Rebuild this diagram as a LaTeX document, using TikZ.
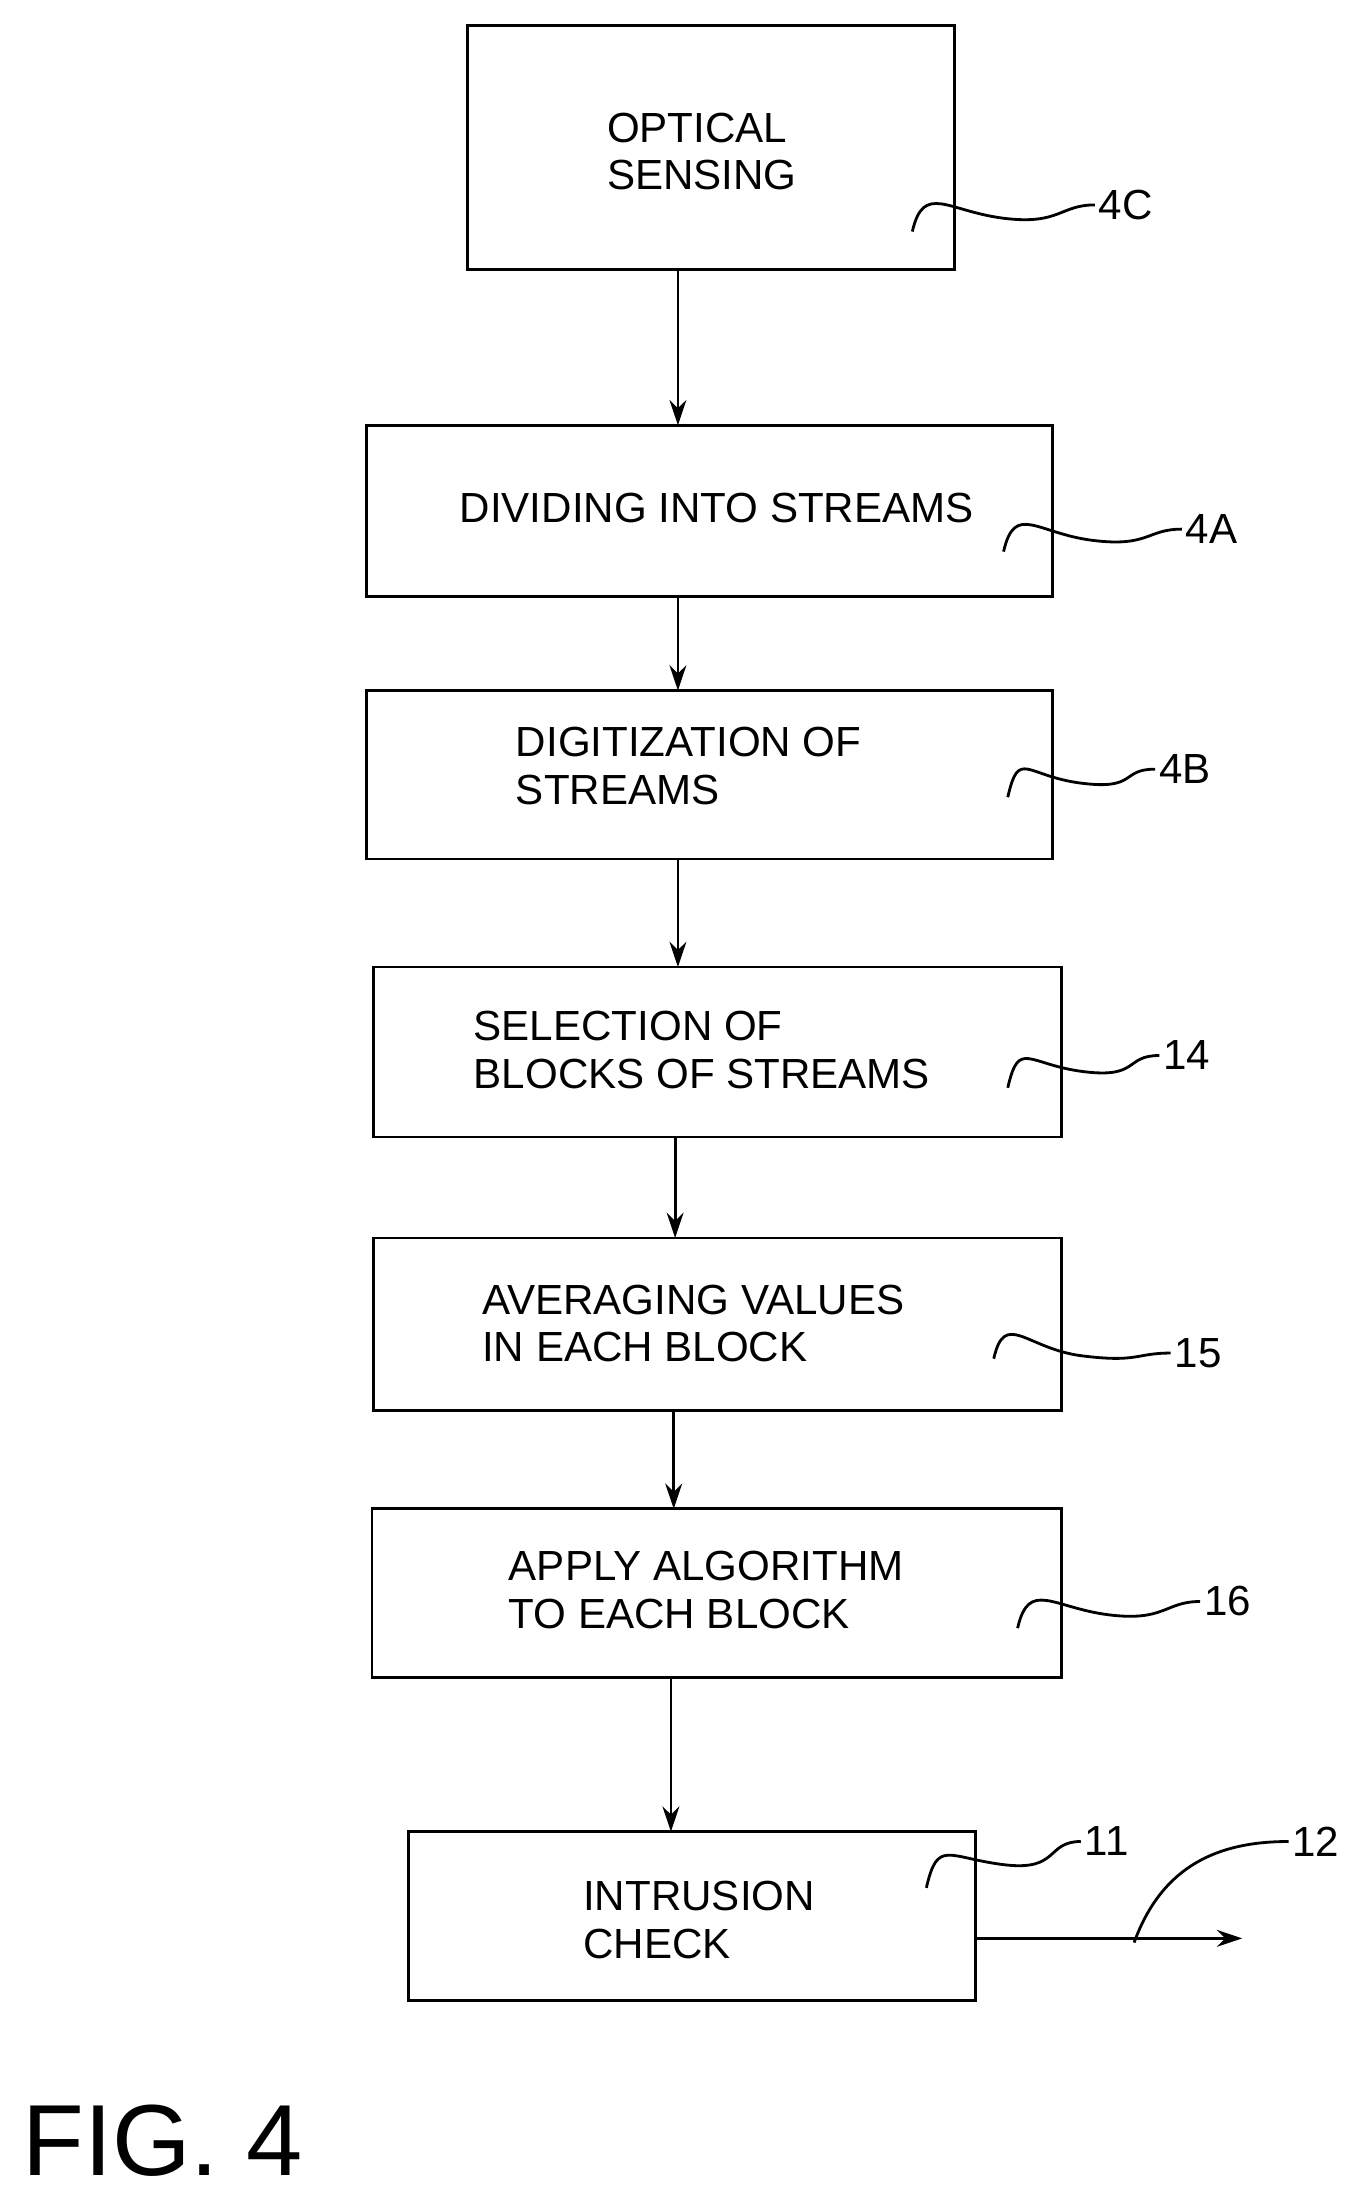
\documentclass[tikz,border=0pt]{standalone}
\usepackage{fontspec}
\setmainfont{Liberation Sans}
\usetikzlibrary{positioning,arrows.meta,calc}
\begin{document}
\begin{tikzpicture}[x=0.5pt,y=-0.5pt,line width=0.9pt]
    %styles
    \tikzstyle{procbox}=[draw,line width=1pt]
    \tikzstyle{lbl}=[font=\fontsize{15}{17}\selectfont,align=left,anchor=west]
    \tikzstyle{flow}=[-{Stealth[length=9pt,width=6pt]},line width=1pt]
    \tikzstyle{ref}=[font=\fontsize{15}{17}\selectfont,anchor=west,inner sep=1pt]
    \tikzstyle{lead}=[line width=1pt]
    \useasboundingbox (0,0) rectangle (975,1566);
    %boxes
    \draw[procbox] (333,18) rectangle (680,192);
    \draw[procbox] (261,303) rectangle (750,425);
    \draw[procbox] (261,492) rectangle (750,612);
    \draw[procbox] (266,689) rectangle (756,810);
    \draw[procbox] (266,882) rectangle (756,1005);
    \draw[procbox] (265,1075) rectangle (756,1195);
    \draw[procbox] (291,1305) rectangle (695,1425);
    %texts
    \node[lbl] (sens) at (425,108) {OPTICAL\\SENSING};
    \node[lbl] (div) at (320,362) {DIVIDING INTO STREAMS};
    \node[lbl] (dig) at (360,546) {DIGITIZATION OF\\STREAMS};
    \node[lbl] (sel) at (330,748) {SELECTION OF\\BLOCKS OF STREAMS};
    \node[lbl] (avg) at (336,943) {AVERAGING VALUES\\IN EACH BLOCK};
    \node[lbl] (alg) at (355,1133) {APPLY ALGORITHM\\TO EACH BLOCK};
    \node[lbl] (chk) at (408,1368) {INTRUSION\\CHECK};
    %connectors
    \coordinate (a1) at (483,192); \coordinate (b1) at (483,303);
    \coordinate (a2) at (483,425); \coordinate (b2) at (483,492);
    \coordinate (a3) at (483,612); \coordinate (b3) at (483,689);
    \coordinate (a4) at (481,810); \coordinate (b4) at (481,882);
    \coordinate (a5) at (480,1005); \coordinate (b5) at (480,1075);
    \coordinate (a6) at (478,1195); \coordinate (b6) at (478,1305);
    \coordinate (o1) at (695,1381); \coordinate (o2) at (885,1381);
    \foreach \i in {1,...,6} {\draw[flow] (a\i)--(b\i);}
    \draw[flow] (o1)--(o2);
    %reference numerals
    \node[ref] (r4c) at (780,146) {4C};
    \node[ref] (r4a) at (842,377) {4A};
    \node[ref] (r4b) at (823,548) {4B};
    \node[ref] (r14) at (826,752) {14};
    \node[ref] (r15) at (834,964) {15};
    \node[ref] (r16) at (855,1141) {16};
    \node[ref] (r11) at (770,1312) {11};
    \node[ref] (r12) at (918,1312) {12};
    \foreach \sx/\sy/\r in {650/165/r4c,715/393/r4a,718/568/r4b,718/775/r14,708/968/r15,725/1160/r16,660/1345/r11} {
      \coordinate (s) at (\sx,\sy);
      \draw[lead] (s) .. controls +(8,-35) and +(-40,-5) .. ($(s)!0.5!(\r.west)$) .. controls +(40,5) and +(-25,0) .. (\r.west);
    }
    \coordinate (s12) at (808,1384);
    \draw[lead] (s12) .. controls +(20,-55) and +(-50,0) .. (r12.west);
    \node[font=\fontsize{36}{40}\selectfont,anchor=west,inner sep=0pt] (fig) at (15,1525) {FIG. 4};
\end{tikzpicture}
\end{document}
